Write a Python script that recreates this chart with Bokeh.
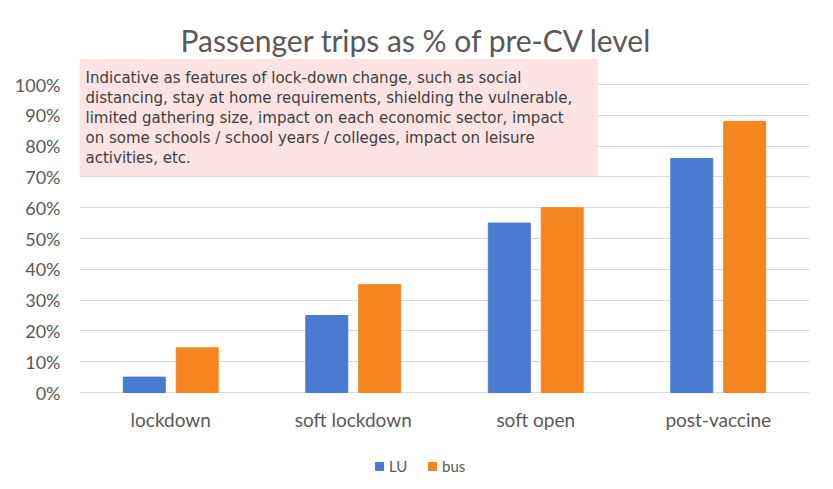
from bokeh.plotting import figure
from bokeh.models import (FactorRange, Range1d, FixedTicker, NumeralTickFormatter,
                          BoxAnnotation, Label, Legend, LegendItem, ColumnDataSource)
from bokeh.transform import dodge
from bokeh.core.properties import value
from bokeh.embed import file_html
from bokeh.resources import INLINE

categories = ["lockdown", "soft lockdown", "soft open", "post-vaccine"]
lu_values = [0.05, 0.25, 0.55, 0.76]
bus_values = [0.145, 0.35, 0.60, 0.88]
series_names = ["LU", "bus"]
y_ticks = [0.0, 0.1, 0.2, 0.3, 0.4, 0.5, 0.6, 0.7, 0.8, 0.9, 1.0]
title_text = "Passenger trips as % of pre-CV level"
note_lines = [
    "Indicative as features of lock-down change, such as social",
    "distancing, stay at home requirements, shielding the vulnerable,",
    "limited gathering size, impact on each economic sector, impact",
    "on some schools / school years / colleges, impact on leisure",
    "activities, etc.",
]

LU_COLOR = "#4a7bd0"
BUS_COLOR = "#f5861f"
GRAY = "#595959"

source = ColumnDataSource(dict(cat=categories, LU=lu_values, bus=bus_values,
                               label_y=[-0.088] * len(categories)))

# the frame covers the whole figure height; 0% sits 392px from the top,
# 100% spans 308px
p = figure(width=817, height=481, output_backend="svg", toolbar_location=None,
           x_range=FactorRange(*categories, range_padding=0),
           y_range=Range1d(-89 / 308, 392 / 308),
           min_border_left=79, min_border_right=8, min_border_top=0,
           min_border_bottom=0)
p.outline_line_color = None

r_lu = p.vbar(x=dodge("cat", -0.145, range=p.x_range), top="LU", width=0.23,
              source=source, color=LU_COLOR)
r_bus = p.vbar(x=dodge("cat", 0.145, range=p.x_range), top="bus", width=0.23,
               source=source, color=BUS_COLOR)

# category labels (x axis hidden because the frame extends to the bottom)
p.xaxis.visible = False
p.text(x="cat", y="label_y", text="cat", source=source,
       text_font=value("Lato"), text_font_size="19px", text_color=GRAY,
       text_align="center", text_baseline="alphabetic")

# y axis
p.yaxis.ticker = FixedTicker(ticks=y_ticks)
p.yaxis.formatter = NumeralTickFormatter(format="0%")
p.yaxis.axis_line_color = None
p.yaxis.major_tick_line_color = None
p.yaxis.minor_tick_line_color = None
p.yaxis.major_label_text_color = GRAY
p.yaxis.major_label_text_font = "Lato"
p.yaxis.major_label_text_font_size = "18px"
p.yaxis.major_label_standoff = 13

p.xgrid.grid_line_color = None
p.ygrid.grid_line_color = "#d9d9d9"
p.ygrid.grid_line_width = 1

# note box
p.add_layout(BoxAnnotation(left=0, right=2.84, bottom=0.703, top=1.083,
                           fill_color="#fde3e3", fill_alpha=1.0, line_color=None,
                           level="underlay"))
p.add_layout(Label(x=0.033, y=1.049, text="\n".join(note_lines),
                   text_font="DejaVu Sans", text_font_size="15px",
                   text_color="#404040", text_baseline="top", text_align="left",
                   text_line_height=1.1))

# title
p.add_layout(Label(x=337, y=442, x_units="screen", y_units="screen", text=title_text,
                   text_font="Lato", text_font_size="30px", text_color=GRAY,
                   text_align="center", text_baseline="middle"))

legend = Legend(items=[LegendItem(label=series_names[0], renderers=[r_lu]),
                       LegendItem(label=series_names[1], renderers=[r_bus])],
                orientation="horizontal", location=(295, 6),
                label_text_font="Lato", label_text_font_size="15px",
                label_text_color=GRAY, glyph_width=10, glyph_height=10,
                spacing=18, label_standoff=5, border_line_color=None,
                background_fill_alpha=0, margin=0, padding=2)
p.add_layout(legend, "center")

open("out.html", "w").write(file_html(p, INLINE))
